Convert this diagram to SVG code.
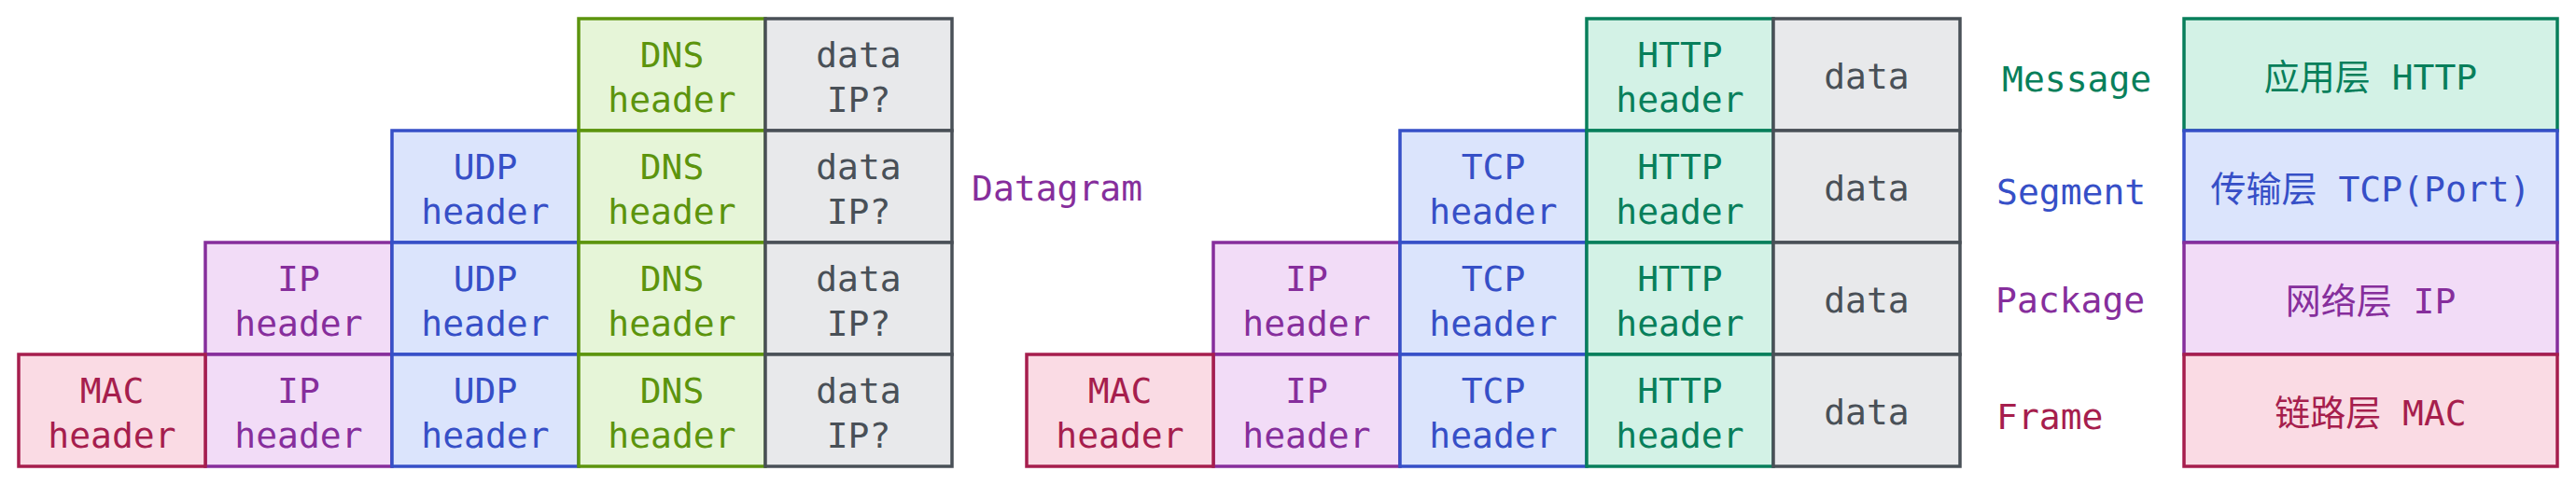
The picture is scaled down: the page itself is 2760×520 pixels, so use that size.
<svg xmlns="http://www.w3.org/2000/svg" width="2760" height="520" viewBox="0 0 2760 520">
<style>
text{font-family:"DejaVu Sans Mono","Noto Sans CJK SC",monospace;font-size:38px;text-anchor:middle}
rect{stroke-width:3.5}
.lbl{text-anchor:start}
.mac rect{fill:#fadbe4;stroke:#a61e4d}.mac text,.t-mac{fill:#a61e4d}
.ip rect{fill:#f2dcf7;stroke:#862e9c}.ip text,.t-ip{fill:#862e9c}
.tp rect{fill:#dbe4fc;stroke:#364fc7}.tp text,.t-tp{fill:#364fc7}
.dns rect{fill:#e6f5d8;stroke:#5c940d}.dns text{fill:#5c940d}
.http rect{fill:#d3f2e6;stroke:#087f5b}.http text,.t-http{fill:#087f5b}
.data rect{fill:#e8e9eb;stroke:#495057}.data text{fill:#495057}
</style>
<rect width="2760" height="520" fill="#ffffff" stroke="none"/>
<!-- Group 1: DNS over UDP -->
<g id="g1-ip-r3" class="ip"><rect x="220" y="260" width="200" height="120"/><text><tspan x="320" y="312">IP</tspan><tspan x="320" y="360">header</tspan></text></g>
<g id="g1-ip-r4" class="ip"><rect x="220" y="380" width="200" height="120"/><text><tspan x="320" y="432">IP</tspan><tspan x="320" y="480">header</tspan></text></g>
<g id="g1-udp-r2" class="tp"><rect x="420" y="140" width="200" height="120"/><text><tspan x="520" y="192">UDP</tspan><tspan x="520" y="240">header</tspan></text></g>
<g id="g1-udp-r3" class="tp"><rect x="420" y="260" width="200" height="120"/><text><tspan x="520" y="312">UDP</tspan><tspan x="520" y="360">header</tspan></text></g>
<g id="g1-udp-r4" class="tp"><rect x="420" y="380" width="200" height="120"/><text><tspan x="520" y="432">UDP</tspan><tspan x="520" y="480">header</tspan></text></g>
<g id="g1-dns-r1" class="dns"><rect x="620" y="20" width="200" height="120"/><text><tspan x="720" y="72">DNS</tspan><tspan x="720" y="120">header</tspan></text></g>
<g id="g1-dns-r2" class="dns"><rect x="620" y="140" width="200" height="120"/><text><tspan x="720" y="192">DNS</tspan><tspan x="720" y="240">header</tspan></text></g>
<g id="g1-dns-r3" class="dns"><rect x="620" y="260" width="200" height="120"/><text><tspan x="720" y="312">DNS</tspan><tspan x="720" y="360">header</tspan></text></g>
<g id="g1-dns-r4" class="dns"><rect x="620" y="380" width="200" height="120"/><text><tspan x="720" y="432">DNS</tspan><tspan x="720" y="480">header</tspan></text></g>
<g id="g1-data-r1" class="data"><rect x="820" y="20" width="200" height="120"/><text><tspan x="920" y="72">data</tspan><tspan x="920" y="120">IP?</tspan></text></g>
<g id="g1-data-r2" class="data"><rect x="820" y="140" width="200" height="120"/><text><tspan x="920" y="192">data</tspan><tspan x="920" y="240">IP?</tspan></text></g>
<g id="g1-data-r3" class="data"><rect x="820" y="260" width="200" height="120"/><text><tspan x="920" y="312">data</tspan><tspan x="920" y="360">IP?</tspan></text></g>
<g id="g1-data-r4" class="data"><rect x="820" y="380" width="200" height="120"/><text><tspan x="920" y="432">data</tspan><tspan x="920" y="480">IP?</tspan></text></g>
<g id="g1-mac-r4" class="mac"><rect x="20" y="380" width="200" height="120"/><text><tspan x="120" y="432">MAC</tspan><tspan x="120" y="480">header</tspan></text></g>
<g id="label-datagram"><text class="lbl t-ip" x="1041" y="215">Datagram</text></g>
<!-- Group 2: HTTP over TCP -->
<g id="g2-ip-r3" class="ip"><rect x="1300" y="260" width="200" height="120"/><text><tspan x="1400" y="312">IP</tspan><tspan x="1400" y="360">header</tspan></text></g>
<g id="g2-ip-r4" class="ip"><rect x="1300" y="380" width="200" height="120"/><text><tspan x="1400" y="432">IP</tspan><tspan x="1400" y="480">header</tspan></text></g>
<g id="g2-tcp-r2" class="tp"><rect x="1500" y="140" width="200" height="120"/><text><tspan x="1600" y="192">TCP</tspan><tspan x="1600" y="240">header</tspan></text></g>
<g id="g2-tcp-r3" class="tp"><rect x="1500" y="260" width="200" height="120"/><text><tspan x="1600" y="312">TCP</tspan><tspan x="1600" y="360">header</tspan></text></g>
<g id="g2-tcp-r4" class="tp"><rect x="1500" y="380" width="200" height="120"/><text><tspan x="1600" y="432">TCP</tspan><tspan x="1600" y="480">header</tspan></text></g>
<g id="g2-http-r1" class="http"><rect x="1700" y="20" width="200" height="120"/><text><tspan x="1800" y="72">HTTP</tspan><tspan x="1800" y="120">header</tspan></text></g>
<g id="g2-http-r2" class="http"><rect x="1700" y="140" width="200" height="120"/><text><tspan x="1800" y="192">HTTP</tspan><tspan x="1800" y="240">header</tspan></text></g>
<g id="g2-http-r3" class="http"><rect x="1700" y="260" width="200" height="120"/><text><tspan x="1800" y="312">HTTP</tspan><tspan x="1800" y="360">header</tspan></text></g>
<g id="g2-http-r4" class="http"><rect x="1700" y="380" width="200" height="120"/><text><tspan x="1800" y="432">HTTP</tspan><tspan x="1800" y="480">header</tspan></text></g>
<g id="g2-data-r1" class="data"><rect x="1900" y="20" width="200" height="120"/><text x="2000" y="95">data</text></g>
<g id="g2-data-r2" class="data"><rect x="1900" y="140" width="200" height="120"/><text x="2000" y="215">data</text></g>
<g id="g2-data-r3" class="data"><rect x="1900" y="260" width="200" height="120"/><text x="2000" y="335">data</text></g>
<g id="g2-data-r4" class="data"><rect x="1900" y="380" width="200" height="120"/><text x="2000" y="455">data</text></g>
<g id="g2-mac-r4" class="mac"><rect x="1100" y="380" width="200" height="120"/><text><tspan x="1200" y="432">MAC</tspan><tspan x="1200" y="480">header</tspan></text></g>
<!-- Unit names -->
<g id="label-message"><text class="lbl t-http" x="2145" y="98">Message</text></g>
<g id="label-segment"><text class="lbl t-tp" x="2139" y="219">Segment</text></g>
<g id="label-package"><text class="lbl t-ip" x="2138" y="335">Package</text></g>
<g id="label-frame"><text class="lbl t-mac" x="2139" y="460">Frame</text></g>
<!-- Layer stack -->
<g id="layer-app" class="http"><rect x="2340" y="20" width="400" height="120"/><text x="2540" y="96">应用层 HTTP</text></g>
<g id="layer-transport" class="tp"><rect x="2340" y="140" width="400" height="120"/><text x="2540" y="216">传输层 TCP(Port)</text></g>
<g id="layer-network" class="ip"><rect x="2340" y="260" width="400" height="120"/><text x="2540" y="336">网络层 IP</text></g>
<g id="layer-link" class="mac"><rect x="2340" y="380" width="400" height="120"/><text x="2540" y="456">链路层 MAC</text></g>
</svg>
